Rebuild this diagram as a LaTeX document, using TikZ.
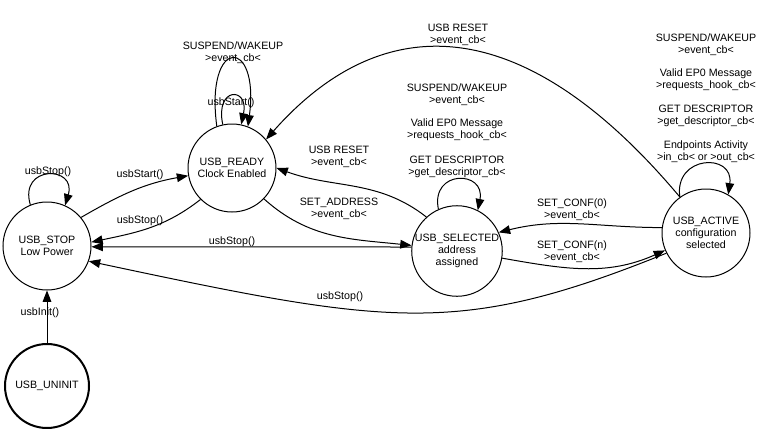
\documentclass[tikz,border=0pt]{standalone}
\usepackage{fontspec}
\setmainfont{Liberation Sans}
\usetikzlibrary{arrows.meta}
\newcommand{\lblfont}{\fontsize{8}{9}\selectfont}

\begin{document}
\begin{tikzpicture}[x=0.75pt, y=0.75pt,
    state/.style={draw, circle, line width=0.75pt, minimum size=66pt, inner sep=0pt, align=center, font=\lblfont},
    trans/.style={line width=0.75pt, -{Triangle[length=8.5pt,width=6.5pt]}},
    lbl/.style={inner sep=0pt, align=center, font=\lblfont}]
          \useasboundingbox (0,0) rectangle (783,-429);
          \node[state] (stop) at (47,-246) {USB\_STOP\\Low Power};
          \node[state] (ready) at (232,-168) {USB\_READY\\Clock Enabled};
          \node[state] (selected) at (457,-251) {USB\_SELECTED\\address\\assigned};
          \node[state] (active) at (706,-233) {USB\_ACTIVE\\configuration\\selected};
          \node[state, line width=1.5pt, minimum size=63pt] (uninit) at (47,-386) {USB\_UNINIT};
          \draw[trans] (stop.112) .. controls +(-12,40) and +(12,40) .. (stop.66);
          \draw[trans] (stop.40) to[out=30,in=190] (ready.190);
          \draw[trans] (ready.225) to[out=218,in=12] (stop.5);
          \draw[trans] (selected.175) -- (stop.-1);
          \draw[trans] (ready.110) .. controls +(-12,90) and +(12,90) .. (ready.69);
          \draw[trans] (ready.102) .. controls +(-8,38) and +(8,38) .. (ready.78);
          \draw[trans] (ready.-44) to[out=-42,in=174] (selected.173);
          \draw[trans] (selected.132) to[out=142,in=-20] (ready.0);
          \draw[trans] (selected.114) .. controls +(-8,40) and +(8,40) .. (selected.63);
          \draw[trans] (active.126) .. controls +(130:244) and +(48.5:176) .. (ready.40);
          \draw[trans] (active.126) .. controls +(-6,42) and +(6,42) .. (active.60);
          \draw[trans] (active.173) to[out=180,in=14] (selected.24);
          \draw[trans] (selected.-9) to[out=-10,in=204] (active.203);
          \draw[trans] (active.207) .. controls +(202:224) and +(-12:309) .. (stop.-20);
          \draw[trans] (uninit) -- (stop);
          \node[lbl] (lstoploop) at (48,-172) {usbStop()};
          \node[lbl] (lstart) at (140,-175) {usbStart()};
          \node[lbl] (lstopready) at (140,-221) {usbStop()};
          \node[lbl] (lstopsel) at (232,-242) {usbStop()};
          \node[lbl] (lstopact) at (340,-297) {usbStop()};
          \node[lbl] (linit) at (40,-313) {usbInit()};
          \node[lbl] (lreadysw) at (233,-53) {SUSPEND/WAKEUP\\>event\_cb<};
          \node[lbl] (lreadystart) at (231,-103) {usbStart()};
          \node[lbl] (lselrst) at (339,-157) {USB RESET\\>event\_cb<};
          \node[lbl] (laddr) at (339,-209) {SET\_ADDRESS\\>event\_cb<};
          \node[lbl] (lactrst) at (458,-34.5) {USB RESET\\>event\_cb<};
          \node[lbl] (lselsw) at (457,-95) {SUSPEND/WAKEUP\\>event\_cb<};
          \node[lbl] (lselep) at (457,-130) {Valid EP0 Message\\>requests\_hook\_cb<};
          \node[lbl] (lseldesc) at (457,-167) {GET DESCRIPTOR\\>get\_descriptor\_cb<};
          \node[lbl] (lactsw) at (706,-45) {SUSPEND/WAKEUP\\>event\_cb<};
          \node[lbl] (lactep) at (706,-80) {Valid EP0 Message\\>requests\_hook\_cb<};
          \node[lbl] (lactdesc) at (706,-116) {GET DESCRIPTOR\\>get\_descriptor\_cb<};
          \node[lbl] (lactio) at (706,-152) {Endpoints Activity\\>in\_cb< or >out\_cb<};
          \node[lbl] (lconf0) at (572,-210) {SET\_CONF(0)\\>event\_cb<};
          \node[lbl] (lconfn) at (572,-251.5) {SET\_CONF(n)\\>event\_cb<};
        \end{tikzpicture}
\end{document}
